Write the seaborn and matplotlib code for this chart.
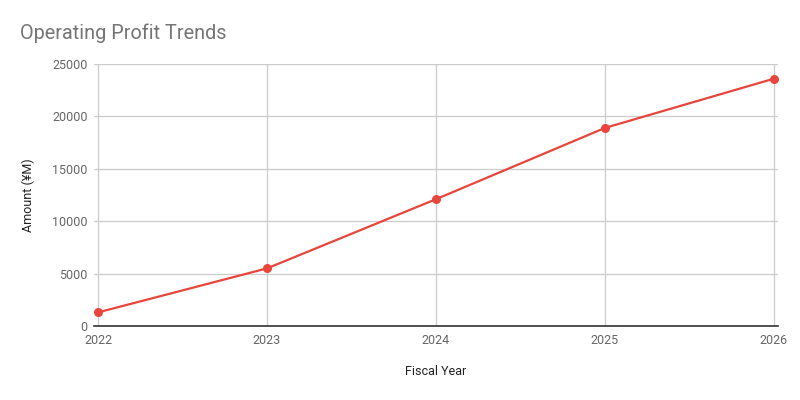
import matplotlib
matplotlib.use("Agg")
import matplotlib.pyplot as plt
import seaborn as sns
import pandas as pd

years = [2022, 2023, 2024, 2025, 2026]
profit = [1300, 5500, 12100, 18900, 23600]
yticks = [0, 5000, 10000, 15000, 20000, 25000]

df = pd.DataFrame({"Fiscal Year": years, "Amount": profit})

sns.set_style("white")
plt.rcParams['font.family'] = ['Roboto', 'DejaVu Sans']

fig = plt.figure(figsize=(8, 4), dpi=100)
ax = fig.add_axes([0.118, 0.185, 0.854, 0.655])

sns.lineplot(data=df, x="Fiscal Year", y="Amount", ax=ax, color="#E8453C",
             linewidth=1.6, marker="o", markersize=6.5, markeredgewidth=0, zorder=3)

pad = 0.022
ax.set_xlim(years[0] - pad, years[-1] + pad)
ax.set_ylim(0, 25000)
ax.set_xticks(years)
ax.set_xticklabels([str(y) for y in years])
ax.set_yticks(yticks)
ax.set_yticklabels([str(v) for v in yticks])

ax.grid(True, color="#cccccc", linewidth=0.9)
ax.set_axisbelow(True)
for s in ["top", "right", "left"]:
    ax.spines[s].set_visible(False)
ax.spines["bottom"].set_color("#333333")
ax.spines["bottom"].set_linewidth(1.2)
ax.spines["bottom"].set_zorder(4)

ax.tick_params(axis="both", length=0, labelsize=9, labelcolor="#666666")
ax.tick_params(axis="x", pad=6)
ax.tick_params(axis="y", pad=5)

ax.set_xlabel("Fiscal Year", fontsize=9, color="#222222", labelpad=13)
ax.set_ylabel("Amount (¥M)", fontsize=9, color="#222222", labelpad=12)

fig.text(0.025, 0.918, "Operating Profit Trends", fontsize=14.3, color="#757575",
         ha="left", va="center")

fig.savefig("out.png", dpi=100)
